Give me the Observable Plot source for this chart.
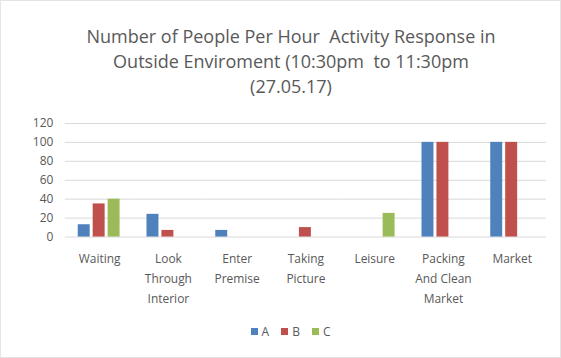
<!DOCTYPE html>
<html>
<head>
<meta charset="utf-8">
<script src="https://cdn.jsdelivr.net/npm/d3@7"></script>
<script src="https://cdn.jsdelivr.net/npm/@observablehq/plot@0.6"></script>
<style>
  html, body { margin: 0; padding: 0; background: #fff; }
  #wrap { position: relative; width: 561px; height: 358px; box-sizing: border-box; border: 1px solid #e4e4e4; font-family: "Open Sans", Lato, sans-serif; color: #595959; }
  #title { position: absolute; top: 23px; left: 10px; width: 560px; text-align: center; font-size: 18px; line-height: 25px; color: #595959; }
  #chart { position: absolute; top: 110px; left: 0; }
  #legend { position: absolute; top: 322px; left: 0; width: 561px; display: flex; justify-content: center; padding-left: 18px; box-sizing: border-box; font-size: 12px; color: #595959; }
  #legend span.item { display: inline-flex; align-items: center; margin: 0 6px; }
  #legend span.sw { width: 7px; height: 7px; display: inline-block; margin-right: 4px; }
</style>
</head>
<body>
<div id="wrap">
  <div id="title"></div>
  <div id="chart"></div>
  <div id="legend"></div>
</div>
<script>
const titleLines = ["Number of People Per Hour  Activity Response in", "Outside Enviroment (10:30pm  to 11:30pm", "(27.05.17)"];
const categories = ["Waiting", "Look\nThrough\nInterior", "Enter\nPremise", "Taking\nPicture", "Leisure", "Packing\nAnd Clean\nMarket", "Market"];
const seriesNames = ["A", "B", "C"];
const seriesColors = ["#4f81bd", "#c0504d", "#9bbb59"];
const valuesA = [13, 24, 7, 0, 0, 100, 100];
const valuesB = [35, 7, 0, 10, 0, 100, 100];
const valuesC = [40, 0, 0, 0, 25, 0, 0];
const yTicks = [0, 20, 40, 60, 80, 100, 120];

document.getElementById("title").innerHTML = titleLines.map(t => `<div>${t.replace(/  /g, "&nbsp; ")}</div>`).join("");

const seriesValues = [valuesA, valuesB, valuesC];
const data = [];
categories.forEach((c, i) => {
  seriesNames.forEach((s, j) => {
    data.push({category: c, series: s, value: seriesValues[j][i]});
  });
});

const chart = Plot.plot({
  width: 561,
  height: 205,
  marginLeft: 62,
  marginRight: 13,
  marginTop: 12,
  marginBottom: 79,
  style: {fontFamily: "'Open Sans', Lato, sans-serif", fontSize: "12px", color: "#595959", background: "transparent"},
  fx: {domain: categories, padding: 0, label: null, axis: null},
  x: {domain: seriesNames, paddingInner: 0.19, paddingOuter: 0.83, axis: null},
  y: {domain: [0, 120], axis: null},
  color: {domain: seriesNames, range: seriesColors},
  marks: [
    Plot.ruleY(yTicks, {stroke: "#d9d9d9", strokeWidth: 1}),
    Plot.axisY(yTicks, {tickSize: 0, tickPadding: 12, label: null, fill: "#595959", fontSize: 12}),
    Plot.barY(data, {fx: "category", x: "series", y: "value", fill: "series", filter: d => d.value > 0}),
    Plot.axisFx({anchor: "bottom", tickSize: 0, tickPadding: 12, label: null, fill: "#595959", fontSize: 12, lineHeight: 1.68})
  ]
});
document.getElementById("chart").appendChild(chart);

const legend = document.getElementById("legend");
seriesNames.forEach((s, i) => {
  const item = document.createElement("span");
  item.className = "item";
  item.innerHTML = `<span class="sw" style="background:${seriesColors[i]}"></span>${s}`;
  legend.appendChild(item);
});
</script>
</body>
</html>
